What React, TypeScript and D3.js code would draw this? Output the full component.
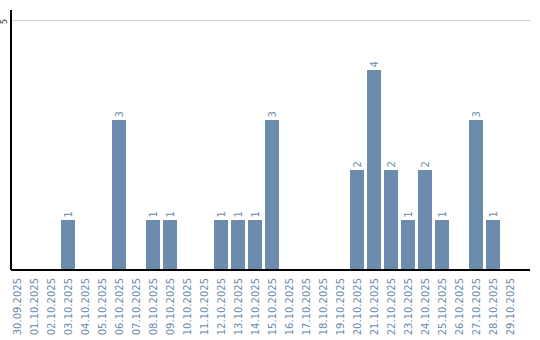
import React from "react";
import * as d3 from "d3";

const dates = [
  "30.09.2025", "01.10.2025", "02.10.2025", "03.10.2025", "04.10.2025",
  "05.10.2025", "06.10.2025", "07.10.2025", "08.10.2025", "09.10.2025",
  "10.10.2025", "11.10.2025", "12.10.2025", "13.10.2025", "14.10.2025",
  "15.10.2025", "16.10.2025", "17.10.2025", "18.10.2025", "19.10.2025",
  "20.10.2025", "21.10.2025", "22.10.2025", "23.10.2025", "24.10.2025",
  "25.10.2025", "26.10.2025", "27.10.2025", "28.10.2025", "29.10.2025",
];
const counts = [0, 0, 0, 1, 0, 0, 3, 0, 1, 1, 0, 0, 1, 1, 1, 3, 0, 0, 0, 0, 2, 4, 2, 1, 2, 1, 0, 3, 1, 0];
const yTicks = [5];

const W = 540;
const H = 340;
const BAR = "#6b8cad";
const FONT = "DejaVu Sans, Verdana, sans-serif";

export default function App() {
  if (typeof document !== "undefined") document.body.style.margin = "0";
  const plotLeft = 11;
  const plotRight = 530;
  const plotTop = 10;
  const plotBottom = 270;

  const x = d3.scaleBand<string>().domain(dates).range([8.5, 518.5]).paddingInner(3 / 17).paddingOuter(1.5 / 17);
  const y = d3.scaleLinear().domain([0, 5]).range([plotBottom, 20]);
  const bw = x.bandwidth();

  return (
    <svg width={W} height={H} style={{ display: "block" }} fontFamily={FONT}>
      {yTicks.map((t) => (
        <g key={t}>
          <line x1={plotLeft} x2={plotRight} y1={y(t)} y2={y(t)} stroke="#cccccc" strokeWidth={1} shapeRendering="crispEdges" />
          <text transform={`translate(6.5,${y(t) + 1.5}) rotate(-90)`} textAnchor="middle" fontSize={8} fill="#333">{t}</text>
        </g>
      ))}
      {dates.map((d, i) =>
        counts[i] > 0 ? (
          <g key={d}>
            <rect x={x(d)!} y={y(counts[i])} width={bw} height={plotBottom - y(counts[i])} fill={BAR} shapeRendering="crispEdges" />
            <text
              transform={`translate(${x(d)! + bw / 2 + 4},${y(counts[i]) - 2.5}) rotate(-90)`}
              textAnchor="start"
              fontSize={10}
              fill={BAR}
            >
              {counts[i]}
            </text>
          </g>
        ) : null
      )}
      <line x1={plotLeft} x2={plotLeft} y1={plotTop} y2={plotBottom} stroke="#000" strokeWidth={1.5} shapeRendering="crispEdges" />
      <line x1={plotLeft} x2={plotRight} y1={plotBottom} y2={plotBottom} stroke="#000" strokeWidth={1.5} shapeRendering="crispEdges" />
      {dates.map((d) => (
        <text
          key={"l" + d}
          transform={`translate(${x(d)! + bw / 2 + 3.5},${plotBottom + 8}) rotate(-90)`}
          textAnchor="end"
          fontSize={10}
          fill={BAR}
        >
          {d}
        </text>
      ))}
    </svg>
  );
}
